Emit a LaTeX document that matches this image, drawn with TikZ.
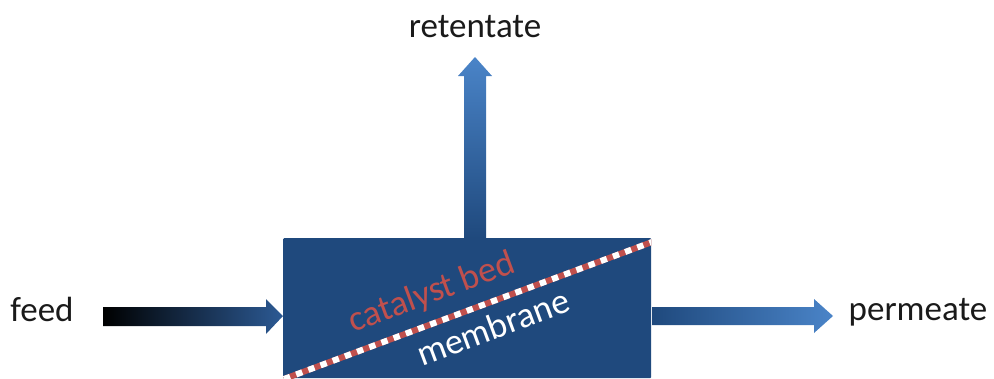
\documentclass[tikz,border=0pt]{standalone}
\usepackage{fontspec}
\setmainfont{Carlito}
\definecolor{boxblue}{HTML}{1F497D}
\definecolor{midblue}{HTML}{2C5A94}
\definecolor{lightblue}{HTML}{4A84C8}
\definecolor{bedred}{HTML}{C0504D}
\definecolor{labelgray}{HTML}{1A1A1A}
\tikzset{
  lbl/.style={font=\fontsize{35}{40}\selectfont, text=labelgray, inner sep=0pt, anchor=base},
  slant/.style={font=\fontsize{36}{40}\selectfont, inner sep=0pt, rotate=20.4},
  reactorbox/.style={fill=boxblue, draw=none, inner sep=0pt, anchor=north west,
    minimum width=368pt, minimum height=140pt, rounded corners=1pt}
}
\begin{document}
\begin{tikzpicture}[x=1pt,y=1pt]
\useasboundingbox (0,0) rectangle (994,-378);
% reactor
\node[reactorbox] (reactor) at (283,-238) {};
% membrane line
\begin{scope}
\clip (reactor.south west) rectangle (reactor.north east);
\coordinate (mA) at (284,-379);
\coordinate (mB) at (652,-242);
\draw[bedred, line width=6pt] (mA) -- (mB);
\draw[white, line width=6pt, dash pattern=on 6.5pt off 6.5pt] (mA) -- (mB);
\end{scope}
\node[slant, text=bedred] (bed) at (432,-293) {catalyst bed};
\node[slant, text=white] (mem) at (493,-327) {membrane};
% labels
\node[lbl] (feed) at (42,-321) {feed};
\node[lbl] (perm) at (918,-320) {permeate};
\node[lbl] (ret) at (475,-37) {retentate};
% feed arrow
\coordinate (fS) at (103,-316);
\shade[left color=black, right color=midblue]
  (103,-307) -- ++(163,0) -- ++(0,8) -- (reactor.west |- fS) -- ++(-17,-18) -- ++(0,8) -- ++(-163,0) -- cycle;
% permeate arrow
\coordinate (pS) at (reactor.east |- fS);
\shade[left color=boxblue, right color=lightblue]
  (652,-307) -- ++(162,0) -- ++(0,8) -- (833,-316) -- ++(-19,-17) -- ++(0,8) -- ++(-162,0) -- cycle;
% retentate arrow
\coordinate (rB) at (475,-238);
\shade[bottom color=boxblue, top color=lightblue]
  (464,-238) -- ++(0,162) -- ++(-6,0) -- (475,-57) -- (492,-76) -- ++(-6,0) -- ++(0,-162) -- cycle;
\end{tikzpicture}
\end{document}
